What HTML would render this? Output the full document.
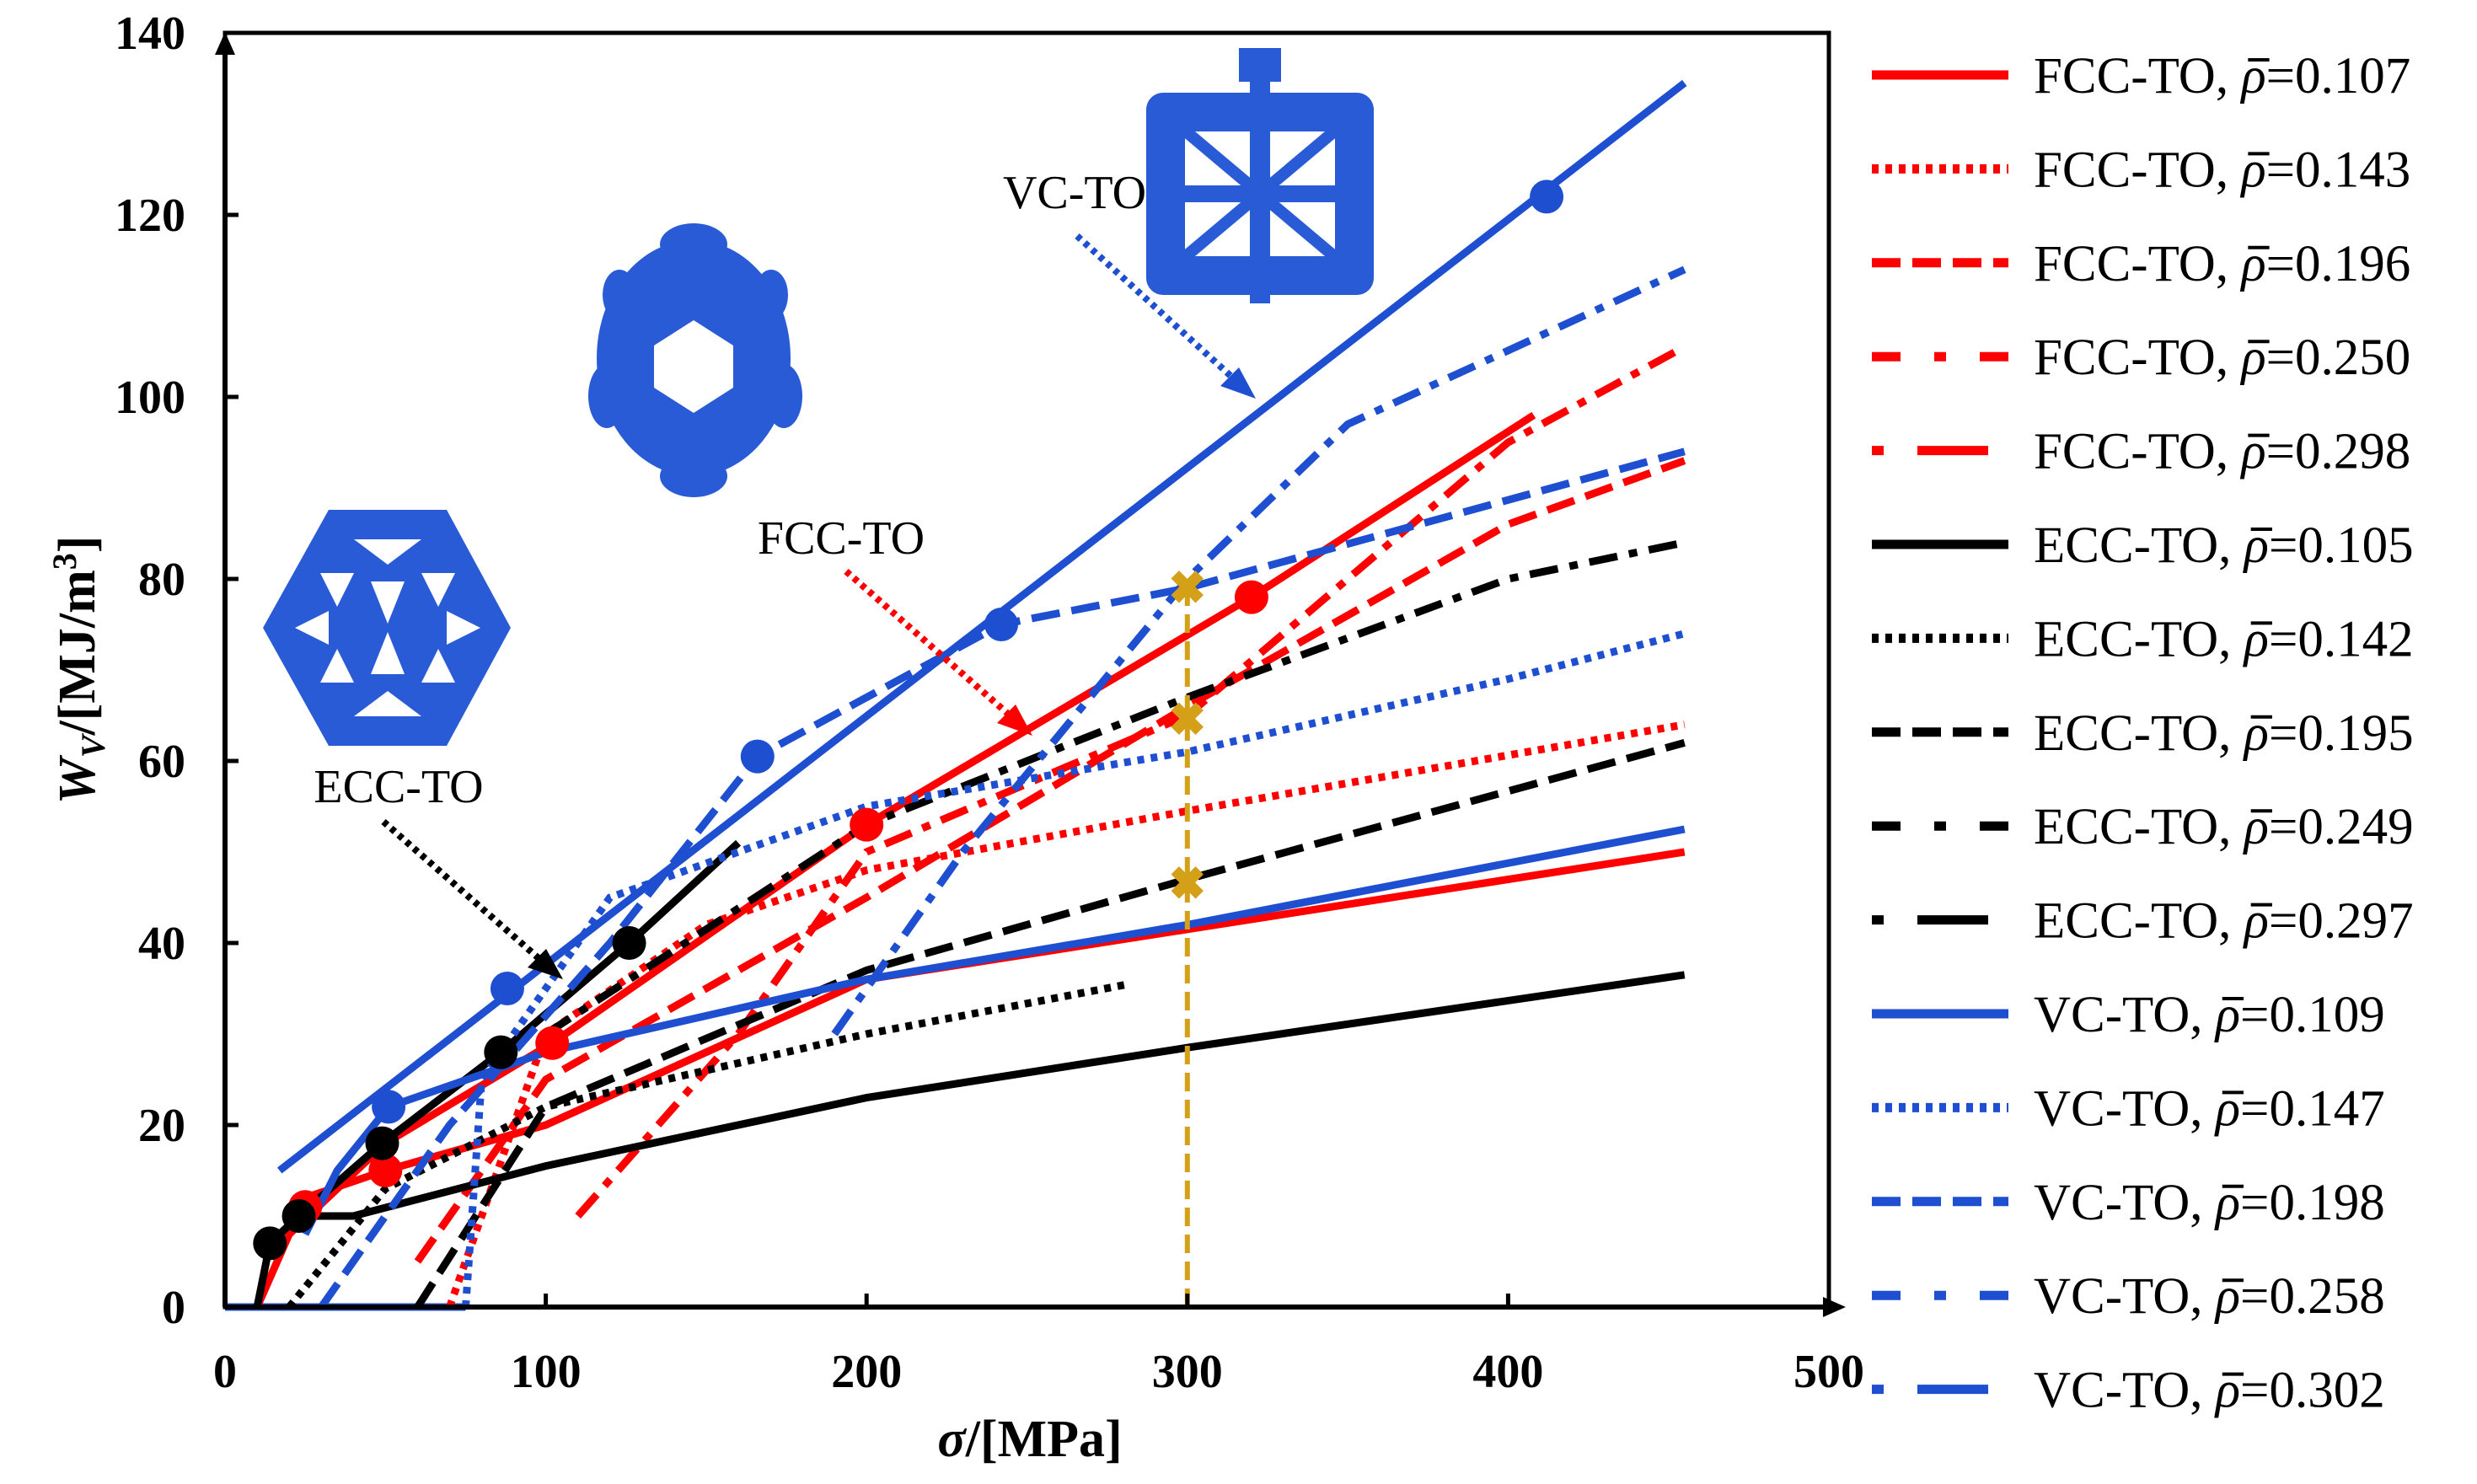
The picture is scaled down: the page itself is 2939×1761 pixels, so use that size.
<!DOCTYPE html>
<html><head><meta charset="utf-8"><style>
html,body{margin:0;padding:0;background:#fff;}
svg{display:block;}
text{font-family:"Liberation Serif",serif;}
</style></head><body>
<svg id="chart" width="2939" height="1761" viewBox="0 0 2939 1761" xmlns="http://www.w3.org/2000/svg">
<g id="grid">
<rect x="267" y="39" width="1903" height="1512" fill="none" stroke="#000" stroke-width="5"/>
</g>
<g id="lattices">
<g fill="#2a5bd7">
<rect x="1360" y="110" width="270" height="240" rx="20"/>
<rect x="1395" y="145" width="200" height="170" fill="#fff"/>
<rect x="1395" y="145" width="200" height="170" fill="none" stroke="#2a5bd7" stroke-width="22"/>
<line x1="1495" y1="70" x2="1495" y2="360" stroke="#2a5bd7" stroke-width="24"/>
<line x1="1395" y1="230" x2="1595" y2="230" stroke="#2a5bd7" stroke-width="20"/>
<line x1="1400" y1="150" x2="1590" y2="310" stroke="#2a5bd7" stroke-width="14"/>
<line x1="1590" y1="150" x2="1400" y2="310" stroke="#2a5bd7" stroke-width="14"/>
<rect x="1470" y="57" width="50" height="40"/>
</g>
<g fill="#2a5bd7">
<ellipse cx="823" cy="425" rx="115" ry="140"/>
<ellipse cx="823" cy="290" rx="40" ry="25"/>
<ellipse cx="823" cy="565" rx="40" ry="25"/>
<ellipse cx="720" cy="470" rx="22" ry="38"/>
<ellipse cx="930" cy="470" rx="22" ry="38"/>
<ellipse cx="735" cy="350" rx="20" ry="30"/>
<ellipse cx="915" cy="350" rx="20" ry="30"/>
<polygon points="823,380 870,410 870,460 823,490 776,460 776,410" fill="#fff"/>
</g>
<g>
<polygon points="390,605 530,605 606,745 530,885 390,885 312,745" fill="#2a5bd7"/>
<g fill="#fff">
<polygon points="380,680 420,680 400,720"/><polygon points="500,680 540,680 520,720"/>
<polygon points="440,690 480,690 460,740"/><polygon points="350,745 390,725 390,765"/>
<polygon points="570,745 530,725 530,765"/><polygon points="440,800 480,800 460,750"/>
<polygon points="380,810 420,810 400,770"/><polygon points="500,810 540,810 520,770"/>
<polygon points="420,640 500,640 460,670"/><polygon points="420,850 500,850 460,820"/>
</g>
</g>
</g>
<g id="series"></g>
<g id="axes">
<line x1="267" y1="1551" x2="267" y2="60" stroke="#000" stroke-width="6"/>
<polygon points="267,38 255,65 279,65" fill="#000"/>
<line x1="267" y1="1551" x2="2165" y2="1551" stroke="#000" stroke-width="6"/>
<polygon points="2190,1551 2163,1539 2163,1563" fill="#000"/>
</g>
<g id="ticks"></g>
<text x="1222" y="1728" font-size="62" font-weight="bold" text-anchor="middle"><tspan font-style="italic">σ</tspan>/[MPa]</text>
<text transform="translate(112,795) rotate(-90)" font-size="62" font-weight="bold" text-anchor="middle"><tspan font-style="italic">W</tspan><tspan font-style="italic" font-size="40" dy="12">V</tspan><tspan dy="-12">/[MJ/m</tspan><tspan font-size="40" dy="-22">3</tspan><tspan dy="22">]</tspan></text>
<g id="annotations">
<text x="1275" y="247" font-size="56" text-anchor="middle">VC-TO</text>
<line x1="1278" y1="280" x2="1470" y2="455" stroke="#1f4fd1" stroke-width="8" stroke-dasharray="6,6"/>
<polygon points="1490,473 1448,458 1470,436" fill="#1f4fd1"/>
<text x="998" y="657" font-size="56" text-anchor="middle">FCC-TO</text>
<line x1="1004" y1="678" x2="1205" y2="855" stroke="#f00" stroke-width="8" stroke-dasharray="6,6"/>
<polygon points="1225,873 1183,858 1205,836" fill="#f00"/>
<text x="473" y="952" font-size="56" text-anchor="middle">ECC-TO</text>
<line x1="455" y1="975" x2="648" y2="1145" stroke="#000" stroke-width="8" stroke-dasharray="6,6"/>
<polygon points="668,1162 626,1148 648,1126" fill="#000"/>
</g>
<g id="legend"></g>
</svg>
<script>
const NS="http://www.w3.org/2000/svg";
const xTicks=[0,100,200,300,400,500];
const yTicks=[0,20,40,60,80,100,120,140];
const X0=267,X1=2170,Y0=1551,Y1=39;
function sx(v){return X0+(v-0)/(500-0)*(X1-X0);}
function sy(v){return Y0-(v-0)/(140-0)*(Y0-Y1);}

const fcc107=[[10,0],[25,12],[50,15],[100,20],[150,28],[200,36],[300,41.5],[455,50]];
const fcc143=[[70,0],[80,10],[100,30],[150,42],[200,48],[300,54.5],[455,64]];
const fcc196=[[60,5],[100,25],[200,45],[300,66],[400,86],[455,93]];
const fcc250=[[110,10],[160,30],[200,50],[300,65],[350,80],[400,95],[455,105.5]];
const fcc298=[[20,8],[50,18],[102,29],[200,53],[320,78],[408,98]];
const ecc105=[[10,0],[14,7],[23,10],[40,10],[100,15.5],[200,23],[300,28.5],[455,36.5]];
const ecc142=[[20,0],[50,13],[100,22],[200,30],[282,35.5]];
const ecc195=[[60,0],[100,22],[200,37],[300,47],[455,62]];
const ecc249=[[100,30],[200,53],[300,67],[400,80],[455,84]];
const ecc297=[[14,7],[23,10],[49,18],[86,28],[126,40],[160,51]];
const vcBase=[[0,0],[75,0]];
const vc109=[[25,8],[35,15],[51,22],[100,28],[200,36],[300,42],[455,52.5]];
const vc147=[[75,0],[80,25],[120,45],[200,55],[300,61],[400,69],[455,74]];
const vc198=[[30,0],[70,20],[120,40],[166,60.5],[242,75],[300,79],[455,94]];
const vc258=[[190,30],[230,50],[300,80],[350,97],[455,114]];
const vc302=[[17,15],[455,134.5]];
const fccMarkers=[[25,11],[50,15],[102,29],[200,53],[320,78]];
const eccMarkers=[[14,7],[23,10],[49,18],[86,28],[126,40]];
const vcMarkers=[[51,22],[88,35],[166,60.5],[242,75],[412,122]];
const goldMarks=[79,64.5,46.5];
const goldX=300;

const RED="#ff0000",BLK="#000000",BLU="#1f4fd1";
const DOT="8,8",DASH="34,14",DD="34,14,10,14";
const series=[
 ["fcc-0.107",fcc107,RED,"none","0.107","FCC-TO"],
 ["fcc-0.143",fcc143,RED,DOT,"0.143","FCC-TO"],
 ["fcc-0.196",fcc196,RED,DASH,"0.196","FCC-TO"],
 ["fcc-0.250",fcc250,RED,DD,"0.250","FCC-TO"],
 ["fcc-0.298",fcc298,RED,"none","0.298","FCC-TO"],
 ["ecc-0.105",ecc105,BLK,"none","0.105","ECC-TO"],
 ["ecc-0.142",ecc142,BLK,DOT,"0.142","ECC-TO"],
 ["ecc-0.195",ecc195,BLK,DASH,"0.195","ECC-TO"],
 ["ecc-0.249",ecc249,BLK,DD,"0.249","ECC-TO"],
 ["ecc-0.297",ecc297,BLK,"none","0.297","ECC-TO"],
 ["vc-0.109",vc109,BLU,"none","0.109","VC-TO"],
 ["vc-0.147",vc147,BLU,DOT,"0.147","VC-TO"],
 ["vc-0.198",vc198,BLU,DASH,"0.198","VC-TO"],
 ["vc-0.258",vc258,BLU,DD,"0.258","VC-TO"],
 ["vc-0.302",vc302,BLU,"none","0.302","VC-TO"]
];
const legendDash=["none",DOT,DASH,"34,40,14,40,60,0","14,40,70,0"];
const sg=document.getElementById("series");
function drawLine(pts,col,da,nm){
  const p=document.createElementNS(NS,"path");
  p.setAttribute("d",pts.map((d,i)=>(i?"L":"M")+sx(d[0]).toFixed(1)+","+sy(d[1]).toFixed(1)).join(""));
  p.setAttribute("fill","none");p.setAttribute("stroke",col);p.setAttribute("stroke-width","9");
  if(da!=="none")p.setAttribute("stroke-dasharray",da);
  
  
  sg.appendChild(p);
}
drawLine(vcBase,BLU,"none","series-line-vc-baseline");
series.forEach(s=>drawLine(s[1],s[2],s[3],"series-line-"+s[0]));
function markers(arr,col,nm){
  arr.forEach(d=>{
    const c=document.createElementNS(NS,"circle");
    c.setAttribute("cx",sx(d[0]));c.setAttribute("cy",sy(d[1]));c.setAttribute("r","20");c.setAttribute("fill",col);
    
    
    sg.appendChild(c);
  });
}
markers(fccMarkers,RED,"fcc-marker");markers(eccMarkers,BLK,"ecc-marker");markers(vcMarkers,BLU,"vc-marker");
const gl=document.createElementNS(NS,"line");
gl.setAttribute("x1",sx(goldX));gl.setAttribute("x2",sx(goldX));gl.setAttribute("y1",sy(0));gl.setAttribute("y2",sy(goldMarks[0]));
gl.setAttribute("stroke","#d4a017");gl.setAttribute("stroke-width","6");gl.setAttribute("stroke-dasharray","22,10");


sg.appendChild(gl);
goldMarks.forEach(v=>{
  const t=document.createElementNS(NS,"text");
  t.setAttribute("x",sx(goldX));t.setAttribute("y",sy(v)+18);t.setAttribute("text-anchor","middle");
  t.setAttribute("font-size","54");t.setAttribute("font-weight","bold");t.setAttribute("fill","#d4a017");t.textContent="✖";
  
  
  sg.appendChild(t);
});
const tg=document.getElementById("ticks");
xTicks.forEach(v=>{
  const t=document.createElementNS(NS,"text");
  t.setAttribute("x",sx(v));t.setAttribute("y",1646);t.setAttribute("text-anchor","middle");
  t.setAttribute("font-size","56");t.setAttribute("font-weight","bold");t.textContent=v;
  
  
  tg.appendChild(t);
  const k=document.createElementNS(NS,"line");
  k.setAttribute("x1",sx(v));k.setAttribute("x2",sx(v));k.setAttribute("y1",1551);k.setAttribute("y2",1535);
  k.setAttribute("stroke","#000");k.setAttribute("stroke-width","5");
  
  
  tg.appendChild(k);
});
yTicks.forEach(v=>{
  const t=document.createElementNS(NS,"text");
  t.setAttribute("x",220);t.setAttribute("y",sy(v)+19);t.setAttribute("text-anchor","end");
  t.setAttribute("font-size","56");t.setAttribute("font-weight","bold");t.textContent=v;
  
  
  tg.appendChild(t);
  const k=document.createElementNS(NS,"line");
  k.setAttribute("x1",267);k.setAttribute("x2",283);k.setAttribute("y1",sy(v));k.setAttribute("y2",sy(v));
  k.setAttribute("stroke","#000");k.setAttribute("stroke-width","5");
  
  
  tg.appendChild(k);
});
const lg=document.getElementById("legend");
series.forEach((s,i)=>{
  const y=89+i*111.4;
  const l=document.createElementNS(NS,"line");
  l.setAttribute("x1",2221);l.setAttribute("x2",2383);l.setAttribute("y1",y);l.setAttribute("y2",y);
  l.setAttribute("stroke",s[2]);l.setAttribute("stroke-width","11");
  const da=legendDash[i%5];
  if(da!=="none")l.setAttribute("stroke-dasharray",da);
  
  
  lg.appendChild(l);
  const t=document.createElementNS(NS,"text");
  t.setAttribute("x",2413);t.setAttribute("y",y+21);t.setAttribute("font-size","61");
  t.innerHTML=s[5]+", <tspan font-style=\"italic\">ρ</tspan>="+s[4];
  
  
  lg.appendChild(t);
  const ext=t.getExtentOfChar(s[5].length+2);
  const bar=document.createElementNS(NS,"line");
  bar.setAttribute("x1",ext.x+8);bar.setAttribute("x2",ext.x+ext.width+4);
  bar.setAttribute("y1",y-18);bar.setAttribute("y2",y-18);
  bar.setAttribute("stroke","#000");bar.setAttribute("stroke-width","4");
  
  
  lg.appendChild(bar);
});
</script>
</body></html>
